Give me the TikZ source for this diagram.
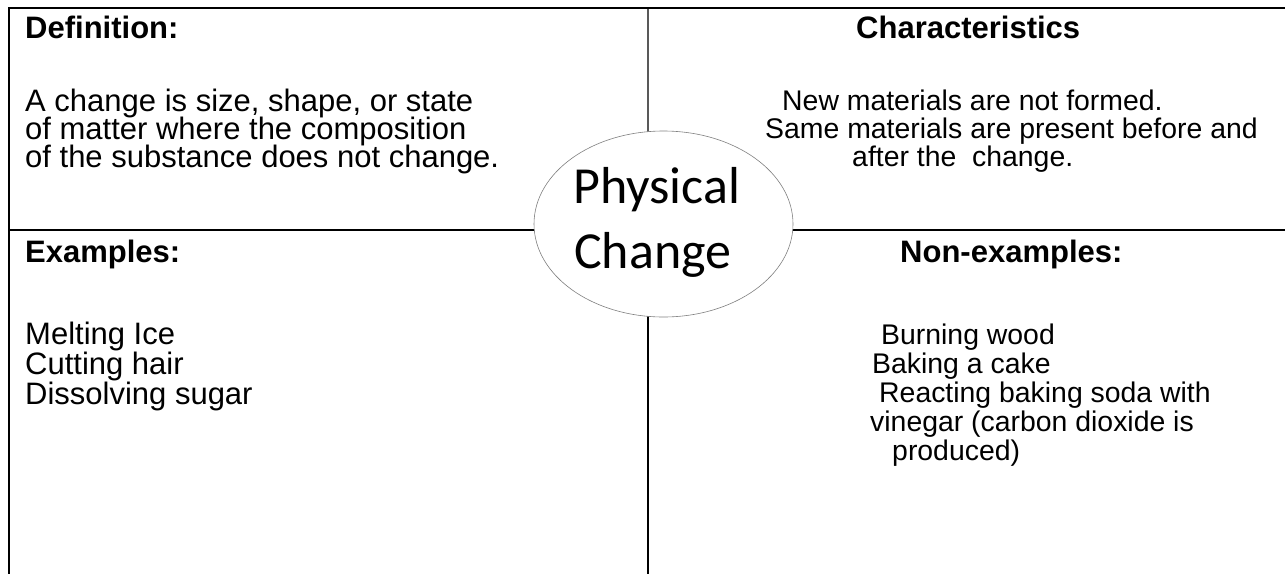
\documentclass[tikz,border=0pt]{standalone}
\usepackage{fontspec}
\setmainfont{Liberation Sans}
\newfontfamily\calib{Carlito}
\usetikzlibrary{shapes.geometric}
\begin{document}
\begin{tikzpicture}[x=1pt,y=-1pt,
  txt/.style={anchor=base west,inner sep=0pt,font=\fontsize{31}{31}\selectfont},
  rtxt/.style={anchor=base west,inner sep=0pt,font=\fontsize{28.4}{28.4}\selectfont},
  head/.style={anchor=base west,inner sep=0pt,font=\fontsize{31}{31}\selectfont\bfseries},
  big/.style={anchor=base west,inner sep=0pt,font=\calib\fontsize{52}{63}\selectfont},
  rule/.style={draw=black,line width=2pt},
  thinrule/.style={draw=black,line width=1.6pt},
  greyrule/.style={draw=black!65,line width=1.3pt},
  centre/.style={ellipse,draw=black!50,line width=0.6pt,fill=white,minimum width=259pt,minimum height=186pt,inner sep=0pt}]
\useasboundingbox (0,0) rectangle (1285,574);
\fill[white] (0,0) rectangle (1285,574);
% grid lines
\draw[thinrule] (9,7) -- (9,574);
\draw[greyrule] (648,8) -- (648,230);
\draw[thinrule] (648,230) -- (648,574);
\draw[rule] (8,8) -- (1285,8);
\draw[rule] (9,230) -- (1285,230);
% centre ellipse
\node[centre] (pc) at (663.5,224) {};
\node[big] (p1) at (573,203) {Physical};
\node[big] (p2) at (574,268) {Change};
% quadrant 1
\node[head] (defh) at (25,38) {Definition:};
\node[txt] (d1) at (25,111) {A change is size, shape, or state};
\node[txt] (d2) at (25,139) {of matter where the composition};
\node[txt] (d3) at (25,167) {of the substance does not change.};
% quadrant 2
\node[head] (chh) at (856,38) {Characteristics};
\node[rtxt] (c1) at (782,110) {New materials are not formed.};
\node[rtxt] (c2) at (765,138) {Same materials are present before and};
\node[rtxt] (c3) at (852,166) {after the\ \ change.};
% quadrant 3
\node[head] (exh) at (25,262) {Examples:};
\node[txt] (e1) at (25,344) {Melting Ice};
\node[txt] (e2) at (25,374) {Cutting hair};
\node[txt] (e3) at (25,404) {Dissolving sugar};
% quadrant 4
\node[head] (nxh) at (900,262) {Non-examples:};
\node[rtxt] (n1) at (881,344) {Burning wood};
\node[rtxt] (n2) at (872,373) {Baking a cake};
\node[rtxt] (n3) at (879,402) {Reacting baking soda with};
\node[rtxt] (n4) at (870,431) {vinegar (carbon dioxide is};
\node[rtxt] (n5) at (892,460) {produced)};
\end{tikzpicture}
\end{document}
